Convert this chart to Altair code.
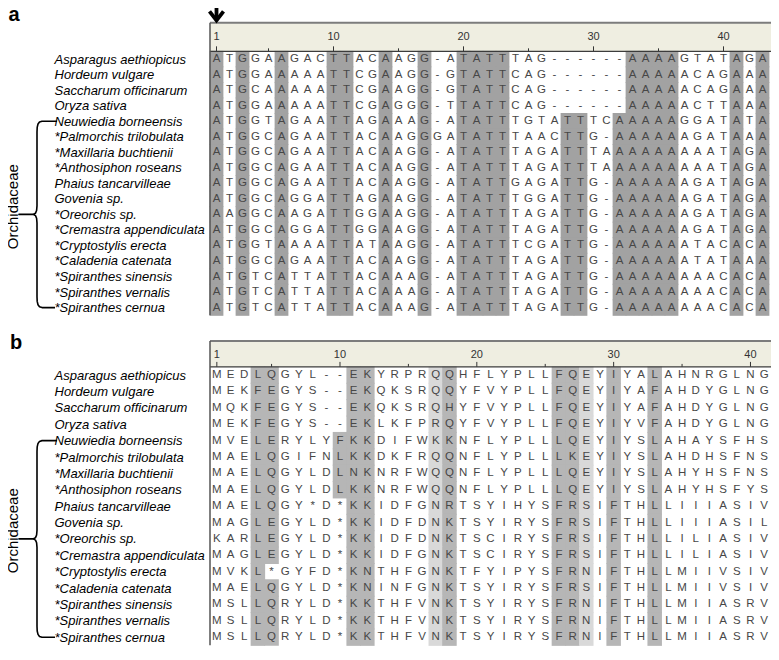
import json
import altair as alt
import pandas as pd

# ---------------- data ----------------
species = [
    "Asparagus aethiopicus", "Hordeum vulgare", "Saccharum officinarum", "Oryza sativa",
    "Neuwiedia borneensis", "*Palmorchis trilobulata", "*Maxillaria buchtienii",
    "*Anthosiphon roseans", "Phaius tancarvilleae", "Govenia sp.", "*Oreorchis sp.",
    "*Cremastra appendiculata", "*Cryptostylis erecta", "*Caladenia catenata",
    "*Spiranthes sinensis", "*Spiranthes vernalis", "*Spiranthes cernua",
]

dna_seqs = [
    "ATGGAAGACTTACAAGG-ATATTTAG------AAAAGTATAGA",
    "ATGGAAAAATTCGAAGG-GTATTCAG------AAAAACAGAAA",
    "ATGCAAAAATTCGAAGG-GTATTCAG------AAAAACAGAAA",
    "ATGGAAAAATTCGAGGG-TTATTCAG------AAAAACTTAAA",
    "ATGGTAGAATTAGAAAG-ATATTTGTATTTCAAAAAGGATATA",
    "ATGGCAGAATTACAAGGGATATTTAACTTG-AAAAAAGATAAA",
    "ATGGCAGAATTACAAGG-ATATTTAGATTTAAAAAAAAATAGA",
    "ATGGCAGAATTACAAGG-ATATTTAGATTTAAAAAAAAATAGA",
    "ATGGCAGAATTACAAGG-ATATTGAGATTG-AAAAAAGATAGA",
    "ATGGCAGGATTAGAAGG-ATATTTGGATTG-AAAAAAGATAGA",
    "AAGGCAAGATTGGAAGG-ATATTTAGATTG-AAAAAAGATAGA",
    "ATGGCAGGATTGGAAGG-ATATTTAGATTG-AAAAAAGATAGA",
    "ATGGTAAAATTATAAGG-ATATTTCGATTG-AAAAAATACACA",
    "ATGGCAGAATTACAAGG-ATATTTAGATTG-AAAAAATATAAA",
    "ATGTCATTATTACAAAG-ATATTTAGATTG-AAAAAAAACACA",
    "ATGTCATTATTACAAAG-ATATTTAGATTG-AAAAAAAACACA",
    "ATGTCATTATTACAAAG-ATATTTAGATTG-AAAAAAAACACA",
]

protein_seqs = [
    "MEDLQGYL--EKYRPRQQHFLYPLLFQEYIYALAHNRGLNG",
    "MEKFEGYS--EKQKSRQQYFVYPLLFQEYIYAFAHDYGLNG",
    "MQKFEGYS--EKQKSRQHYFVYPLLFQEYIYAFAHDYGLNG",
    "MEKFEGYS--EKLKFPRQYFVYPLLFQEYIYVFAHDYGLNG",
    "MVELERYLYFKKDIFWKKNFLYPLLLQEYIYSLAHAYSFHS",
    "MAELQGIFNLKKDKFRQQNFLYPLLLKEYIYSLAHDHSFNS",
    "MAELQGYLDLNKNRFWQQNFLYPLLLQEYIYSLAHYHSFNS",
    "MAELQGYLDLKKNRFWQQNFLYPLLLQEYIYSLAHYHSFYS",
    "MAELQGY*D*KKIDFGNRTSYIHYSFRSIFTHLLIIIASIV",
    "MAGLEGYLD*KKIDFDNKTSYIRYSFRSIFTHLLIIIASIL",
    "KARLEGYLD*KKIDFDNKTSCIRYSFRSIFTHLLILIASIV",
    "MAGLEGYLD*KKIDFGNKTSCIRYSFRSIFTHLLILIASIV",
    "MVKL*GYFD*KNTHFGNKTFYIPYSFRNIFTHLLMIIVSIV",
    "MAELQGYLD*KNINFGNKTSYIRYSFRSIFTHLLMIIVSIV",
    "MSLLQRYLD*KKTHFVNKTSYIRYSFRNIFTHLLMIIASRV",
    "MSLLQRYLD*KKTHFVNKTSYIRYSFRNIFTHLLMIIASRV",
    "MSLLQRYLD*KKTHFVNKTSYIRYSFRNIFTHLLMIIASRV",
]

dna_conserved_cols = [1, 3, 6, 10, 11, 14, 17, 20, 21, 22, 23, 28, 29,
                      32, 33, 34, 35, 36, 41, 43]
protein_dark_cols = [4, 5, 10, 11, 12, 18, 26, 27, 30, 33]
protein_light_cols = [17, 28]
ruler_major = [1, 10, 20, 30, 40]
ruler_minor = [5, 15, 25, 35]
panel_letters = ["a", "b"]
group_name = "Orchidaceae"
group_first = "Neuwiedia borneensis"
group_mid = "*Oreorchis sp."
group_last = "*Spiranthes cernua"

# ---------------- layout / style ----------------
W, H = 561, 638
FONT = "Liberation Sans"
LAST = len(species) - 1

dec_scale = alt.Scale(domain=[0, W], nice=False, zero=False)   # decoration scale (left margin)

labels = [s if s.startswith("*") else "\u2002" + s for s in species]
label_expr = json.dumps(labels, ensure_ascii=False) + "[datum.value]"


def qx(field, scale):
    return alt.X(f"{field}:Q", scale=scale, axis=None)


def qy(field, scale, axis=None):
    return alt.Y(f"{field}:Q", scale=scale, axis=axis)


def panel(seqs, shade, xs, ys, row_px, band_px, letter, letter_x, letter_y, arrow=False):
    RB = -0.5
    RT = RB - band_px / row_px
    RL = RT + 14.5 / row_px
    T_MAJ = RB - 5.0 / row_px
    T_MIN = RB - 3.0 / row_px

    cells = []
    for r, s in enumerate(seqs):
        for c, ch in enumerate(s, 1):
            cells.append({"row": r, "col": c, "ch": ch,
                          "fill": shade.get(c) if ch not in "-*" else None})
    df = pd.DataFrame(cells)
    sh = df[df["fill"].notna()].copy()
    e = 0.03
    sh["x0"] = sh["col"] - 0.5 - e
    sh["x1"] = sh["col"] + 0.5 + e
    sh["y0"] = sh["row"] - 0.5 - e
    sh["y1"] = sh["row"] + 0.5 + e

    layers = []
    band = pd.DataFrame({"x": [0.5], "x2": [60], "y": [RT], "y2": [RB]})
    layers.append(alt.Chart(band).mark_rect(fill="#efeee1").encode(
        x=qx("x", xs), x2="x2:Q", y=qy("y", ys), y2="y2:Q"))
    layers.append(alt.Chart(sh).mark_rect().encode(
        x=qx("x0", xs), x2="x1:Q", y=qy("y0", ys), y2="y1:Q",
        fill=alt.Fill("fill:N", scale=None)))

    label_axis = alt.Axis(values=list(range(len(species))), labelExpr=label_expr,
                          orient="left", domain=False, ticks=False, tickSize=0,
                          grid=False, title=None, labelAlign="left", labelPadding=156,
                          labelFont=FONT, labelFontStyle="italic", labelFontSize=13,
                          labelColor="black", labelBaseline="middle", labelLimit=400,
                          labelOverlap=False, labelFlush=False)
    layers.append(alt.Chart(df).mark_text(font=FONT, fontSize=11.5, color="#474747",
                                          baseline="middle").encode(
        x=qx("col", xs), y=qy("row", ys, label_axis), text="ch:N"))

    ticks = pd.DataFrame({"col": ruler_major + ruler_minor,
                          "top": [T_MAJ] * len(ruler_major) + [T_MIN] * len(ruler_minor),
                          "bot": RB})
    layers.append(alt.Chart(ticks).mark_rule(color="#333333", strokeWidth=1).encode(
        x=qx("col", xs), y=qy("top", ys), y2="bot:Q"))
    tl = pd.DataFrame({"col": ruler_major, "y": RL})
    layers.append(alt.Chart(tl).mark_text(font=FONT, fontSize=11, color="#333333",
                                          baseline="middle").encode(
        x=qx("col", xs), y=qy("y", ys), text="col:N"))
    layers.append(alt.Chart(pd.DataFrame({"x": [0.5], "x2": [60], "y": [RT]}))
                  .mark_rule(color="#7c7c7c", strokeWidth=2).encode(
        x=qx("x", xs), x2="x2:Q", y=qy("y", ys)))
    layers.append(alt.Chart(pd.DataFrame({"x": [0.5], "x2": [60], "y": [RB]}))
                  .mark_rule(color="#3c3c3c", strokeWidth=1.2).encode(
        x=qx("x", xs), x2="x2:Q", y=qy("y", ys)))
    layers.append(alt.Chart(pd.DataFrame({"x": [0.5], "y": [RT], "y2": [LAST + 0.5]}))
                  .mark_rule(color="#555555", strokeWidth=1.5).encode(
        x=qx("x", xs), y=qy("y", ys), y2="y2:Q"))

    # curly brace for the orchid group
    top = species.index(group_first)
    mid = species.index(group_mid)
    bot = species.index(group_last)
    k = 15.5 / row_px
    pts = [(-153, top), (-168, top), (-170.5, top + 0.05 * k), (-172, top + 0.18 * k),
           (-172.8, top + 0.4 * k), (-173, top + 0.7 * k), (-173, mid - 0.55 * k),
           (-173.4, mid - 0.25 * k), (-174.5, mid - 0.08 * k), (-177, mid), (-191, mid),
           (-177, mid), (-174.5, mid + 0.08 * k), (-173.4, mid + 0.25 * k),
           (-173, mid + 0.55 * k), (-173, bot - 0.7 * k), (-172.8, bot - 0.4 * k),
           (-172, bot - 0.18 * k), (-170.5, bot - 0.05 * k), (-168, bot), (-155, bot)]
    brace = pd.DataFrame({"bx": [p[0] for p in pts], "by": [p[1] for p in pts],
                          "i": list(range(len(pts)))})
    layers.append(alt.Chart(brace).mark_line(color="black", strokeWidth=1.6,
                                             strokeJoin="round").encode(
        x=qx("bx", dec_scale), y=qy("by", ys), order="i:Q"))
    layers.append(alt.Chart(pd.DataFrame({"x": [-197.5], "y": [mid - 0.5],
                                          "t": [group_name]}))
                  .mark_text(angle=270, font=FONT, fontSize=15, color="black",
                             align="center", baseline="middle").encode(
        x=qx("x", dec_scale), y=qy("y", ys), text="t:N"))
    layers.append(alt.Chart(pd.DataFrame({"x": [letter_x], "y": [letter_y],
                                          "t": [letter]}))
                  .mark_text(font=FONT, fontSize=20, fontWeight="bold", color="black",
                             align="center", baseline="middle").encode(
        x=qx("x", dec_scale), y=qy("y", ys), text="t:N"))

    if arrow:
        lo = ys.domain[0]
        tip = RT - 2.5 / row_px
        head = tip - 9.0 / row_px
        hw = 7.0 / 13.0
        arr = pd.DataFrame({
            "x": [1, 1, 1 - hw, 1, 1 + hw],
            "y": [lo, tip - 0.08, head, tip, head],
            "part": ["shaft", "shaft", "head", "head", "head"],
            "i": [0, 1, 0, 1, 2]})
        layers.append(alt.Chart(arr).mark_line(color="black", strokeWidth=3.8,
                                               strokeJoin="miter", strokeCap="butt").encode(
            x=qx("x", xs), y=qy("y", ys), detail="part:N", order="i:Q"))
    return layers


ROW_A, ROW_B = 15.53, 16.38
xa = alt.Scale(domain=[0.5, 0.5 + W / 13.0], nice=False, zero=False)
xb = alt.Scale(domain=[0.5, 41.5], nice=False, zero=False)
lo_a = -(59.1 - 8) / ROW_A
lo_b = -(375.1 - 8) / ROW_B
ya = alt.Scale(domain=[lo_a, lo_a + H / ROW_A], reverse=True, nice=False, zero=False)
yb = alt.Scale(domain=[lo_b, lo_b + H / ROW_B], reverse=True, nice=False, zero=False)

shade_a = {c: "#a2a2a2" for c in dna_conserved_cols}
shade_b = {c: "#b6b6b6" for c in protein_dark_cols}
shade_b.update({c: "#d9d9d9" for c in protein_light_cols})

layers = panel(dna_seqs, shade_a, xa, ya, ROW_A, 28.5, panel_letters[0], -196,
               lo_a + 6.5 / ROW_A, arrow=True)
layers += panel(protein_seqs, shade_b, xb, yb, ROW_B, 26.0, panel_letters[1], -194,
                lo_b + (342.5 - 8) / ROW_B)

chart = (alt.layer(*layers)
         .resolve_scale(x="independent", y="independent")
         .properties(width=W, height=H,
                     padding={"left": 202, "top": 0, "right": 0, "bottom": 0},
                     autosize=alt.AutoSizeParams(type="none"))
         .configure_view(stroke=None))

chart.save("out.html", embed_options={"renderer": "svg", "actions": False})
